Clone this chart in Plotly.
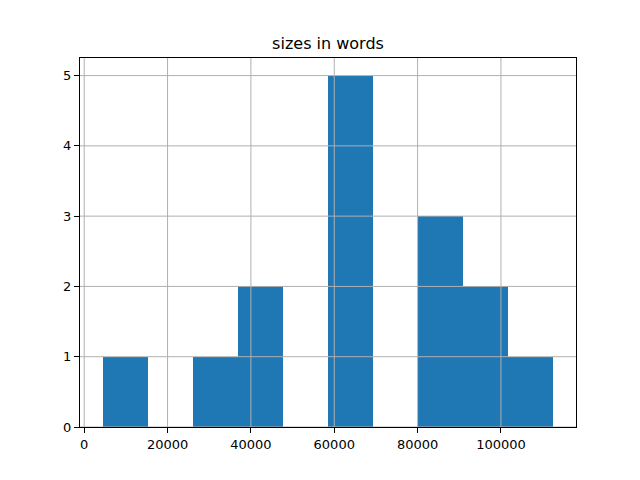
import plotly.graph_objects as go

# Histogram data
bin_edges = [4400, 15220, 26040, 36860, 47680, 58500, 69320, 80140, 90960, 101780, 112600]
counts = [1, 0, 1, 2, 0, 5, 0, 3, 2, 1]
x_ticks = [0, 20000, 40000, 60000, 80000, 100000]
y_ticks = [0, 1, 2, 3, 4, 5]
title_text = "sizes in words"

centers = [(a + b) / 2 for a, b in zip(bin_edges[:-1], bin_edges[1:])]
widths = [b - a for a, b in zip(bin_edges[:-1], bin_edges[1:])]

span = bin_edges[-1] - bin_edges[0]
x_range = [bin_edges[0] - 0.05 * span, bin_edges[-1] + 0.05 * span]
y_range = [0, max(counts) * 1.05]

fig = go.Figure()
fig.add_trace(go.Bar(x=centers, y=counts, width=widths,
                     marker=dict(color="#1f77b4", line=dict(width=0)),
                     showlegend=False))

grid_color = "#b0b0b0"
shapes = []
for v in x_ticks:
    shapes.append(dict(type="line", xref="x", yref="paper", x0=v, x1=v, y0=0, y1=1,
                       line=dict(color=grid_color, width=1), layer="above"))
for v in y_ticks:
    shapes.append(dict(type="line", xref="paper", yref="y", x0=0, x1=1, y0=v, y1=v,
                       line=dict(color=grid_color, width=1), layer="above"))

# the page body has an 8px default margin, so the figure is shrunk by 8px
W, H = 632, 472
font = "DejaVu Sans"
fig.update_layout(
    width=W, height=H,
    margin=dict(l=72, r=64, t=50, b=53, pad=0),
    paper_bgcolor="white", plot_bgcolor="white",
    font=dict(family=font, size=13, color="black"),
    title=dict(text=title_text, x=0.5, xref="paper", y=1 - 35 / H, yref="container",
               xanchor="center", yanchor="middle", font=dict(family=font, size=16, color="black")),
    shapes=shapes,
    bargap=0,
)
fig.update_xaxes(range=x_range, tickvals=x_ticks, ticktext=[str(v) for v in x_ticks],
                 showgrid=False, zeroline=False, showline=True, linecolor="black", linewidth=1,
                 mirror=True, ticks="outside", ticklen=5, tickcolor="black", tickwidth=1,
                 tickfont=dict(family=font, size=13, color="black"))
fig.update_yaxes(range=y_range, tickvals=y_ticks, ticktext=[str(v) for v in y_ticks],
                 showgrid=False, zeroline=False, showline=True, linecolor="black", linewidth=1,
                 mirror=True, ticks="outside", ticklen=5, tickcolor="black", tickwidth=1,
                 tickfont=dict(family=font, size=13, color="black"))

fig.write_html("out.html")
